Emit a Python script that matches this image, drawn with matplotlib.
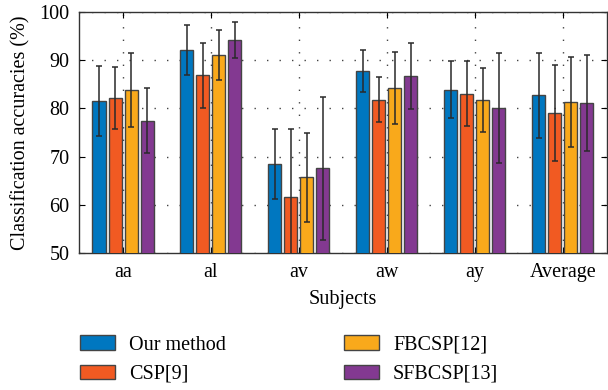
import numpy as np
import matplotlib
matplotlib.use('Agg')
import matplotlib.pyplot as plt

plt.rcParams['font.family'] = ['Liberation Serif', 'DejaVu Serif']

subjects = ['aa', 'al', 'av', 'aw', 'ay', 'Average']
methods = ['Our method', 'CSP[9]', 'FBCSP[12]', 'SFBCSP[13]']
colors = ['#0077c0', '#f15a22', '#f9a91b', '#833991']

# mean accuracies per method (%)
ours = [81.5, 92.1, 68.5, 87.8, 83.9, 82.7]
csp = [82.2, 86.9, 61.7, 81.8, 83.1, 79.1]
fbcsp = [83.9, 91.1, 65.7, 84.2, 81.8, 81.3]
sfbcsp = [77.5, 94.2, 67.6, 86.7, 80.1, 81.2]

# standard deviations
ours_std = [7.3, 5.2, 7.3, 4.3, 5.9, 8.9]
csp_std = [6.4, 6.7, 14.0, 4.7, 6.7, 10.0]
fbcsp_std = [7.7, 5.2, 9.2, 7.5, 6.6, 9.3]
sfbcsp_std = [6.8, 3.8, 14.8, 6.8, 11.4, 10.0]

means = [ours, csp, fbcsp, sfbcsp]
stds = [ours_std, csp_std, fbcsp_std, sfbcsp_std]

fs = 14.5
fig = plt.figure(figsize=(6.08, 3.90), dpi=100)
ax = fig.add_axes([0.130, 0.351, 0.868, 0.618])

x = np.arange(len(subjects))
step = 0.182
width = 0.148
for i in range(len(methods)):
    pos = x + (i - 1.5) * step
    ax.bar(pos, means[i], width, color=colors[i], edgecolor='#444444',
           linewidth=1.0, label=methods[i], zorder=3)
    ax.errorbar(pos, means[i], yerr=stds[i], fmt='none', ecolor='#2a2a2a',
                elinewidth=1.1, capsize=2.5, capthick=1.1, zorder=4)

ax.set_xlim(-0.5, 5.5)
ax.set_ylim(50, 100)
ax.set_xticks(x)
ax.set_xticklabels(subjects)
ax.set_yticks([50, 60, 70, 80, 90, 100])
ax.tick_params(direction='in', top=True, right=True, labelsize=fs, length=4)
ax.tick_params(axis='y', pad=7)
ax.tick_params(axis='x', pad=7)
ax.grid(True, linestyle=(0, (1, 8)), color='#444444', linewidth=1.0, zorder=0)
ax.set_axisbelow(True)
for s in ax.spines.values():
    s.set_color('#333333')
    s.set_linewidth(1.0)

ax.set_xlabel('Subjects', fontsize=fs, labelpad=6)
ax.set_ylabel('Classification accuracies (%)', fontsize=fs, labelpad=6)

fig.legend(loc='center left', bbox_to_anchor=(0.102, 0.078), ncol=2,
           frameon=False, fontsize=fs, handlelength=1.74, handleheight=0.7,
           columnspacing=5.85, labelspacing=0.5, handletextpad=0.7)

fig.savefig('out.png', dpi=100)
